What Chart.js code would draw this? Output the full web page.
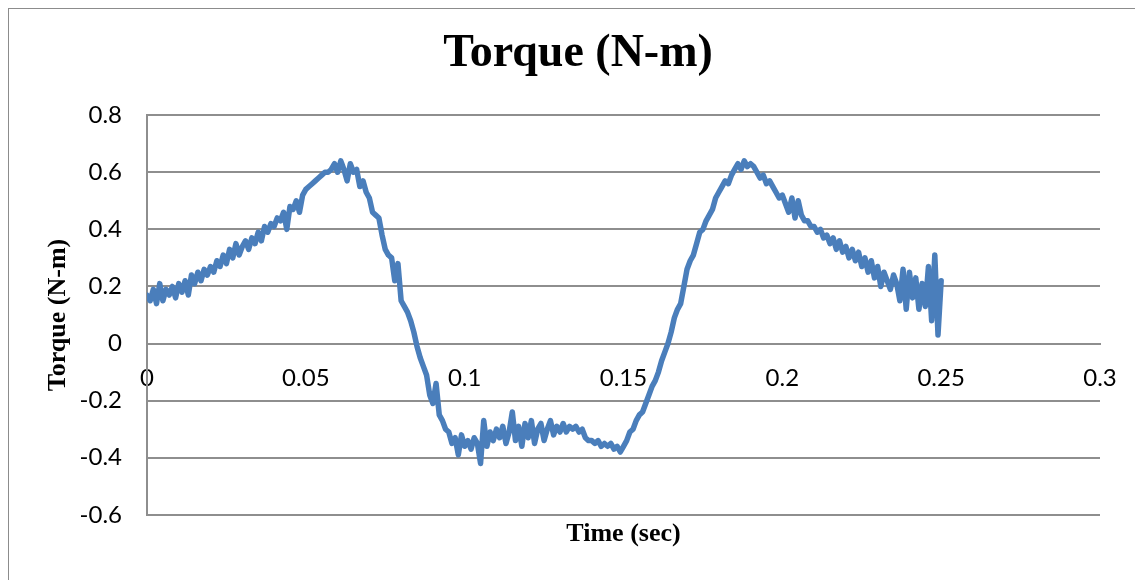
<!DOCTYPE html>
<html>
<head>
<meta charset="utf-8">
<script src="https://cdn.jsdelivr.net/npm/chart.js@4"></script>
<style>
  html, body { margin: 0; padding: 0; background: #fff; overflow: hidden; }
  #wrap {
    position: absolute; left: 8px; top: 8px;
    width: 1138px; height: 571px;
    border-left: 1px solid #8c8c8c; border-top: 1px solid #8c8c8c;
  }
</style>
</head>
<body>
<div id="wrap"><canvas id="myChart"></canvas></div>
<script>
// torque samples, one every millisecond from 0 to 0.25 s
const torque = [
  0.17, 0.15, 0.19, 0.14, 0.21, 0.15, 0.19, 0.17, 0.20, 0.16,
  0.21, 0.18, 0.22, 0.17, 0.24, 0.21, 0.25, 0.22, 0.26, 0.24,
  0.27, 0.25, 0.29, 0.27, 0.31, 0.28, 0.33, 0.30, 0.35, 0.31,
  0.34, 0.36, 0.33, 0.37, 0.35, 0.39, 0.36, 0.41, 0.39, 0.42,
  0.41, 0.44, 0.43, 0.46, 0.40, 0.48, 0.47, 0.50, 0.46, 0.52,
  0.54, 0.55, 0.56, 0.57, 0.58, 0.59, 0.60, 0.60, 0.61, 0.63,
  0.60, 0.64, 0.61, 0.57, 0.63, 0.60, 0.61, 0.55, 0.57, 0.53,
  0.51, 0.46, 0.45, 0.44, 0.38, 0.33, 0.31, 0.30, 0.22, 0.28,
  0.15, 0.13, 0.11, 0.08, 0.04, -0.01, -0.05, -0.08, -0.11, -0.18,
  -0.21, -0.14, -0.25, -0.27, -0.30, -0.31, -0.35, -0.33, -0.39, -0.32,
  -0.36, -0.34, -0.37, -0.33, -0.35, -0.42, -0.27, -0.36, -0.31, -0.34,
  -0.30, -0.33, -0.29, -0.35, -0.31, -0.24, -0.34, -0.29, -0.36, -0.28,
  -0.33, -0.27, -0.35, -0.30, -0.28, -0.34, -0.30, -0.27, -0.32, -0.29,
  -0.31, -0.28, -0.31, -0.29, -0.30, -0.29, -0.31, -0.30, -0.33, -0.34,
  -0.34, -0.35, -0.34, -0.36, -0.35, -0.36, -0.35, -0.37, -0.36, -0.38,
  -0.36, -0.34, -0.31, -0.30, -0.27, -0.25, -0.24, -0.21, -0.18, -0.15,
  -0.13, -0.10, -0.06, -0.03, 0.00, 0.04, 0.09, 0.12, 0.14, 0.20,
  0.26, 0.29, 0.31, 0.35, 0.39, 0.40, 0.43, 0.45, 0.47, 0.51,
  0.53, 0.55, 0.57, 0.56, 0.59, 0.61, 0.63, 0.61, 0.64, 0.62,
  0.63, 0.62, 0.60, 0.58, 0.59, 0.56, 0.57, 0.55, 0.53, 0.51,
  0.52, 0.49, 0.46, 0.51, 0.44, 0.50, 0.45, 0.43, 0.43, 0.41,
  0.41, 0.39, 0.40, 0.37, 0.38, 0.35, 0.37, 0.33, 0.36, 0.32,
  0.34, 0.30, 0.33, 0.29, 0.32, 0.27, 0.30, 0.25, 0.29, 0.23,
  0.27, 0.20, 0.25, 0.22, 0.19, 0.24, 0.21, 0.15, 0.26, 0.12,
  0.25, 0.16, 0.23, 0.12, 0.21, 0.13, 0.27, 0.08, 0.31, 0.03,
  0.22
];
const times = torque.map((_, i) => i / 1000);

const xTickLabels = ['0', '0.05', '0.1', '0.15', '0.2', '0.25', '0.3'];
const yTickLabels = ['-0.6', '-0.4', '-0.2', '0', '0.2', '0.4', '0.6', '0.8'];

const gridColor = '#8e8e8e';
const tickFont = { family: 'Lato', size: 24 };
const serifBold = (size) => ({ family: '"Liberation Serif", "Times New Roman", serif', size: size, weight: 'bold' });

const ctx = document.getElementById('myChart').getContext('2d');
new Chart(ctx, {
  type: 'line',
  data: {
    datasets: [{
      label: 'Torque (N-m)',
      data: times.map((t, i) => ({ x: t, y: torque[i] })),
      borderColor: '#4a7ebb',
      borderWidth: 5.5,
      borderJoinStyle: 'round',
      borderCapStyle: 'round',
      pointRadius: 0,
      tension: 0,
      fill: false
    }]
  },
  options: {
    responsive: true,
    maintainAspectRatio: false,
    animation: false,
    layout: { padding: 0 },
    plugins: {
      legend: { display: false },
      tooltip: { enabled: false },
      title: {
        display: true,
        text: 'Torque (N-m)',
        color: '#000',
        font: serifBold(46),
        padding: { top: 18, bottom: 33 }
      }
    },
    scales: {
      x: {
        type: 'linear',
        position: { y: 0 },
        min: 0,
        max: 0.3,
        grid: { display: false, drawTicks: false },
        border: { display: true, color: gridColor, width: 2 },
        ticks: {
          stepSize: 0.05,
          autoSkip: false,
          maxRotation: 0,
          padding: 20,
          color: '#000',
          font: tickFont,
          callback: (v, i) => xTickLabels[i]
        }
      },
      x2: {
        type: 'linear',
        position: 'bottom',
        grid: { display: false, drawTicks: false },
        border: { display: false },
        ticks: { display: false },
        title: {
          display: true,
          text: 'Time (sec)',
          color: '#000',
          font: serifBold(26),
          padding: { top: 4, bottom: 30 }
        }
      },
      y: {
        type: 'linear',
        min: -0.6,
        max: 0.8,
        afterFit: (scale) => { scale.width = 138; },
        grid: { color: gridColor, lineWidth: 2, drawTicks: false },
        border: { display: true, color: gridColor, width: 2 },
        ticks: {
          stepSize: 0.2,
          padding: 25,
          color: '#000',
          font: tickFont,
          callback: (v, i) => yTickLabels[i]
        },
        title: {
          display: true,
          text: 'Torque (N-m)',
          color: '#000',
          font: serifBold(26),
          padding: { top: 34, bottom: 0 }
        }
      },
      // empty right-hand strip so the plot stops short of the frame edge
      yRight: {
        type: 'linear',
        axis: 'y',
        position: 'right',
        afterFit: (scale) => { scale.width = 47; },
        grid: { display: false, drawTicks: false },
        border: { display: false },
        ticks: { display: false }
      }
    }
  }
});
</script>
</body>
</html>
